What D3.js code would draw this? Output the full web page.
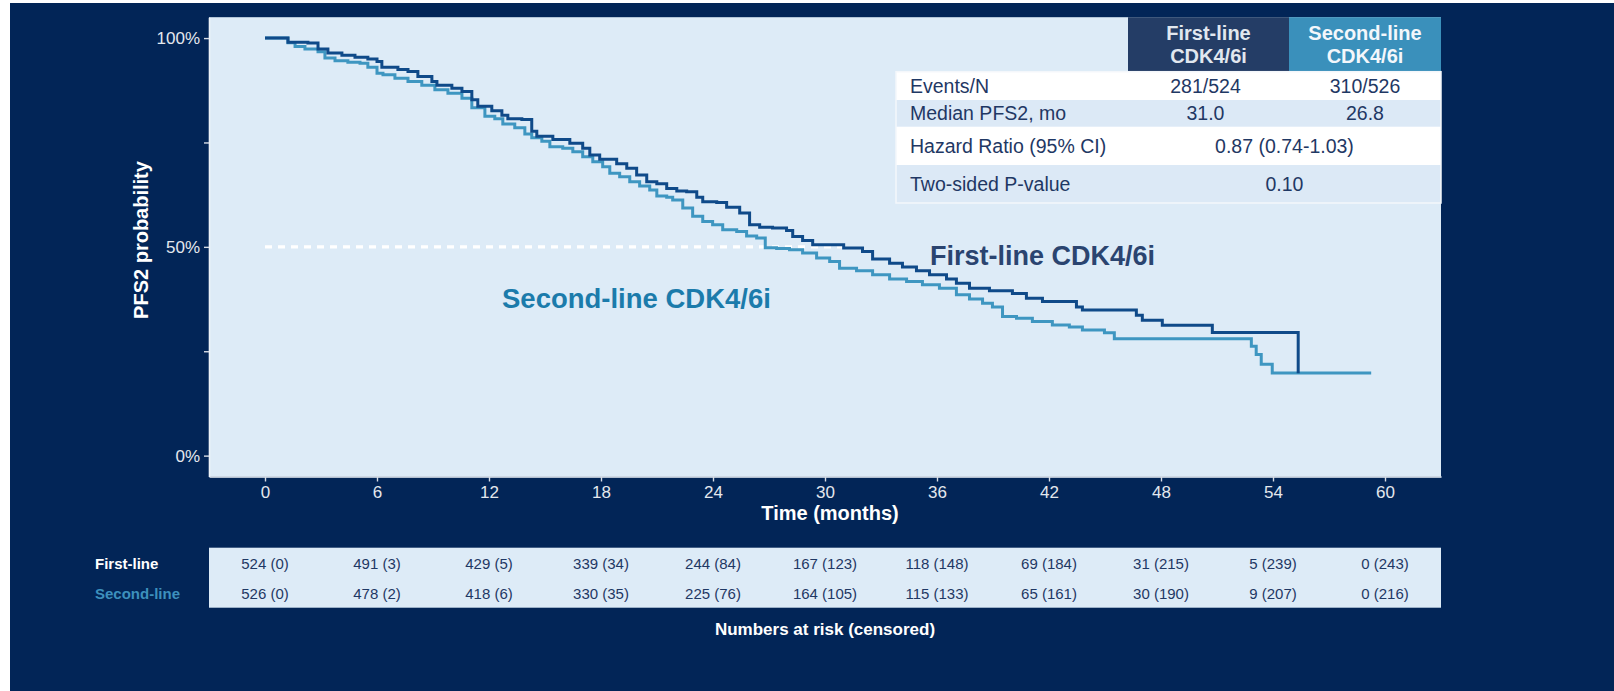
<!DOCTYPE html>
<html>
<head>
<meta charset="utf-8">
<script src="https://cdn.jsdelivr.net/npm/d3@7"></script>
<style>
  html, body { margin: 0; padding: 0; background: #ffffff; }
  svg { display: block; font-family: "Liberation Sans", Arial, "DejaVu Sans", sans-serif; }
</style>
</head>
<body>
<svg id="chart" width="1614" height="691"></svg>
<script>
// ---- Data -------------------------------------------------------------
const months = [0, 6, 12, 18, 24, 30, 36, 42, 48, 54, 60];

// Kaplan-Meier step points: time (months) and PFS2 probability (%)
const firstLineTimes = [0, 1.23, 2.30, 2.84, 3.37, 4.12, 4.82, 5.51, 6.00, 6.26, 7.12, 7.66, 8.19, 8.94, 9.21, 10.01, 10.55, 11.08, 11.40, 12.15, 12.69, 13.01, 13.76, 14.29, 14.56, 15.42, 16.33, 17.02, 17.40, 17.93, 18.84, 19.38, 19.91, 20.45, 20.99, 21.52, 22.06, 22.59, 23.13, 23.45, 24.20, 24.73, 25.43, 25.96, 26.50, 27.19, 27.94, 28.27, 28.80, 29.34, 31.00, 32.01, 32.55, 33.46, 34.15, 34.90, 35.60, 36.51, 37.04, 37.74, 38.81, 40.04, 40.79, 41.65, 43.47, 43.79, 46.68, 47.00, 48.07, 50.75, 55.35];
const firstLineSurv  = [100, 99.0, 98.8, 97.4, 96.4, 95.9, 95.4, 95.0, 94.4, 93.0, 92.5, 92.0, 90.8, 89.6, 88.7, 88.0, 87.2, 85.2, 83.7, 82.6, 81.5, 80.7, 80.5, 77.7, 76.5, 75.7, 74.8, 73.6, 72.0, 71.0, 69.9, 68.8, 67.2, 65.6, 65.1, 64.0, 63.4, 63.2, 61.9, 60.8, 60.6, 59.5, 58.1, 55.3, 54.7, 54.5, 53.9, 52.5, 51.5, 50.5, 49.7, 48.9, 47.1, 46.1, 45.2, 44.3, 43.3, 42.3, 41.3, 40.1, 39.5, 38.8, 37.7, 36.9, 35.6, 34.9, 33.6, 32.4, 31.2, 29.5, 19.7];

const secondLineTimes = [0, 1.23, 1.61, 2.14, 2.84, 3.21, 3.75, 4.44, 5.09, 5.51, 6.00, 6.32, 6.96, 7.66, 8.40, 9.10, 9.80, 10.55, 11.08, 11.78, 12.31, 12.74, 13.38, 13.92, 14.29, 14.83, 15.26, 15.95, 16.49, 17.02, 17.56, 18.09, 18.47, 19.00, 19.54, 20.07, 20.61, 20.99, 21.52, 21.84, 22.38, 22.91, 23.45, 23.98, 24.52, 25.27, 25.80, 26.34, 26.80, 27.41, 28.10, 28.80, 29.55, 30.25, 30.78, 31.69, 32.55, 33.46, 34.37, 35.22, 36.13, 37.04, 37.74, 38.44, 38.97, 39.51, 40.26, 41.11, 42.18, 43.09, 43.79, 44.97, 45.50, 52.84, 53.10, 53.37, 53.96, 59.26];
const secondLineSurv  = [100, 98.9, 98.0, 97.4, 96.7, 95.2, 94.6, 94.2, 94.0, 93.0, 91.6, 91.2, 90.4, 89.6, 88.7, 87.6, 86.8, 85.6, 83.3, 81.3, 80.7, 79.4, 78.5, 77.0, 76.1, 75.3, 74.0, 73.6, 72.8, 71.6, 70.4, 69.2, 67.6, 66.8, 65.6, 64.6, 63.6, 62.2, 61.9, 61.2, 59.3, 57.3, 56.1, 55.3, 54.1, 53.7, 52.6, 52.1, 49.8, 49.6, 49.3, 48.5, 47.3, 46.5, 44.9, 44.3, 43.3, 42.3, 41.7, 40.9, 40.1, 38.5, 37.5, 36.5, 35.6, 33.3, 32.9, 32.1, 31.3, 30.8, 30.1, 29.4, 28.0, 26.2, 24.2, 21.9, 19.8, 19.8];

// Numbers at risk and censored counts at each month tick
const firstAtRisk    = [524, 491, 429, 339, 244, 167, 118, 69, 31, 5, 0];
const firstCensored  = [0, 3, 5, 34, 84, 123, 148, 184, 215, 239, 243];
const secondAtRisk   = [526, 478, 418, 330, 225, 164, 115, 65, 30, 9, 0];
const secondCensored = [0, 2, 6, 35, 76, 105, 133, 161, 190, 207, 216];

// Summary table
const groupHeaders = [["First-line", "CDK4/6i"], ["Second-line", "CDK4/6i"]];
const statLabels   = ["Events/N", "Median PFS2, mo", "Hazard Ratio (95% CI)", "Two-sided P-value"];
const firstStats   = ["281/524", "31.0"];
const secondStats  = ["310/526", "26.8"];
const sharedStats  = ["0.87 (0.74-1.03)", "0.10"];
const firstMedian  = 31.0;

// ---- Styling ----------------------------------------------------------
const C = {
  frame: "#022557",
  panel: "#ddebf7",
  first: "#0f4a89",
  second: "#3e96c1",
  firstLabel: "#2a4470",
  secondLabel: "#1b7bab",
  hdrFirst: "#243d66",
  hdrSecond: "#3a90bb",
  tableText: "#1f3864",
  axisText: "#e4e8ee"
};

const svg = d3.select("#chart");

// dark frame
svg.append("rect").attr("x", 10).attr("y", 3).attr("width", 1604).attr("height", 688).attr("fill", C.frame);

// scales (5% padding on each side of 0-60 months and 0-100%)
const x = d3.scaleLinear().domain([-3, 63]).range([209, 1441]);
const y = d3.scaleLinear().domain([-5, 105]).range([476.5, 17.2]);

// plotting panel
svg.append("rect")
  .attr("x", x(-3)).attr("y", y(105))
  .attr("width", x(63) - x(-3)).attr("height", y(-5) - y(105))
  .attr("fill", C.panel);

// axes
const yAxis = d3.axisLeft(y)
  .tickValues([0, 25, 50, 75, 100])
  .tickFormat(d => d % 50 === 0 ? d + "%" : "")
  .tickSize(5).tickSizeOuter(0).tickPadding(4);
const gy = svg.append("g").attr("transform", `translate(${x(-3)},0)`).call(yAxis);

const xAxis = d3.axisBottom(x)
  .tickValues(months)
  .tickSize(5).tickSizeOuter(0).tickPadding(4);
const gx = svg.append("g").attr("transform", `translate(0,${y(-5)})`).call(xAxis);

[gx, gy].forEach(g => {
  g.select(".domain").attr("stroke", "#eef3f9").attr("stroke-width", 1.6);
  g.selectAll(".tick line").attr("stroke", "#d8dde5").attr("stroke-width", 1.4);
  g.selectAll(".tick text").attr("fill", C.axisText).style("font-size", "17px")
    .style("font-family", "'Liberation Sans', Arial, sans-serif");
});

// axis titles
svg.append("text")
  .attr("transform", "translate(141,240) rotate(-90)")
  .attr("text-anchor", "middle").attr("dominant-baseline", "central")
  .attr("fill", "#ffffff").style("font-size", "20px").style("font-weight", "bold")
  .text("PFS2 probability");

svg.append("text")
  .attr("x", 830).attr("y", 513)
  .attr("text-anchor", "middle").attr("dominant-baseline", "central")
  .attr("fill", "#ffffff").style("font-size", "20px").style("font-weight", "bold")
  .text("Time (months)");

// median reference line at 50%
svg.append("line")
  .attr("x1", x(0)).attr("x2", x(firstMedian))
  .attr("y1", y(50)).attr("y2", y(50))
  .attr("stroke", "#ffffff").attr("stroke-width", 3.2)
  .attr("stroke-dasharray", "7,6");

// survival curves
const step = d3.line().curve(d3.curveStepAfter).x(d => x(d[0])).y(d => y(d[1]));
const secondPts = d3.zip(secondLineTimes, secondLineSurv);
const firstPts  = d3.zip(firstLineTimes, firstLineSurv);

svg.append("path").datum(secondPts).attr("d", step)
  .attr("fill", "none").attr("stroke", C.second).attr("stroke-width", 3);
svg.append("path").datum(firstPts).attr("d", step)
  .attr("fill", "none").attr("stroke", C.first).attr("stroke-width", 3);

// curve labels
svg.append("text").attr("x", 930).attr("y", 256).attr("dy", "0.35em")
  .attr("fill", C.firstLabel).style("font-size", "27px").style("font-weight", "bold")
  .text("First-line CDK4/6i");
svg.append("text").attr("x", 502).attr("y", 298.5).attr("dy", "0.35em")
  .attr("fill", C.secondLabel).style("font-size", "27.5px").style("font-weight", "bold")
  .text("Second-line CDK4/6i");

// ---- summary table ----------------------------------------------------
const tbl = svg.append("g");
const colFirst = [1128, 1289], colSecond = [1289, 1441];
const hdrTop = 17.2, hdrBottom = 71.7;
const rowEdges = [71.7, 100, 126.7, 165, 203];
const tblLeft = 896, tblRight = 1441;

tbl.append("rect").attr("x", colFirst[0]).attr("y", hdrTop)
  .attr("width", colFirst[1] - colFirst[0]).attr("height", hdrBottom - hdrTop).attr("fill", C.hdrFirst);
tbl.append("rect").attr("x", colSecond[0]).attr("y", hdrTop)
  .attr("width", colSecond[1] - colSecond[0]).attr("height", hdrBottom - hdrTop).attr("fill", C.hdrSecond);

const hdrCols = [colFirst, colSecond];
const hdrColors = ["#e1e7ef", "#f3f7fb"];
groupHeaders.forEach((lines, i) => {
  const cx = (hdrCols[i][0] + hdrCols[i][1]) / 2;
  lines.forEach((ln, j) => {
    tbl.append("text").attr("x", cx).attr("y", j === 0 ? 32.5 : 56).attr("dy", "0.35em")
      .attr("text-anchor", "middle").attr("fill", hdrColors[i])
      .style("font-size", "20px").style("font-weight", "bold").text(ln);
  });
});

statLabels.forEach((lab, i) => {
  const y0 = rowEdges[i], y1 = rowEdges[i + 1], cy = (y0 + y1) / 2;
  tbl.append("rect").attr("x", tblLeft).attr("y", y0)
    .attr("width", tblRight - tblLeft).attr("height", y1 - y0)
    .attr("fill", i % 2 === 0 ? "#ffffff" : "#dce9f6");
  tbl.append("text").attr("x", 910).attr("y", cy).attr("dy", "0.35em")
    .attr("fill", C.tableText).style("font-size", "19.5px").text(lab);
  if (i < 2) {
    tbl.append("text").attr("x", (colFirst[0] + colFirst[1]) / 2 - 3).attr("y", cy).attr("dy", "0.35em")
      .attr("text-anchor", "middle").attr("fill", C.tableText).style("font-size", "19.5px").text(firstStats[i]);
    tbl.append("text").attr("x", (colSecond[0] + colSecond[1]) / 2).attr("y", cy).attr("dy", "0.35em")
      .attr("text-anchor", "middle").attr("fill", C.tableText).style("font-size", "19.5px").text(secondStats[i]);
  } else {
    tbl.append("text").attr("x", (colFirst[0] + colSecond[1]) / 2).attr("y", cy).attr("dy", "0.35em")
      .attr("text-anchor", "middle").attr("fill", C.tableText).style("font-size", "19.5px").text(sharedStats[i - 2]);
  }
});
tbl.append("rect").attr("x", tblLeft).attr("y", rowEdges[0])
  .attr("width", tblRight - tblLeft).attr("height", rowEdges[4] - rowEdges[0])
  .attr("fill", "none").attr("stroke", "#f4f7fb").attr("stroke-width", 1.5);

// ---- numbers at risk --------------------------------------------------
const riskTop = 547.7, riskBottom = 607.7;
svg.append("rect").attr("x", x(-3)).attr("y", riskTop)
  .attr("width", x(63) - x(-3)).attr("height", riskBottom - riskTop).attr("fill", C.panel);

const riskRows = [
  { label: "First-line", color: "#ffffff", yc: 563.3, n: firstAtRisk, c: firstCensored },
  { label: "Second-line", color: "#3d90bd", yc: 594, n: secondAtRisk, c: secondCensored }
];
riskRows.forEach(r => {
  svg.append("text").attr("x", 95).attr("y", r.yc).attr("dy", "0.35em")
    .attr("fill", r.color).style("font-size", "15px").style("font-weight", "bold").text(r.label);
  svg.append("g").selectAll("text").data(months).join("text")
    .attr("x", d => x(d)).attr("y", r.yc).attr("dy", "0.35em")
    .attr("text-anchor", "middle").attr("fill", C.tableText).style("font-size", "15px")
    .text((d, i) => `${r.n[i]} (${r.c[i]})`);
});

svg.append("text").attr("x", 825).attr("y", 629).attr("dy", "0.35em")
  .attr("text-anchor", "middle").attr("fill", "#ffffff")
  .style("font-size", "17px").style("font-weight", "bold")
  .text("Numbers at risk (censored)");
</script>
</body>
</html>
